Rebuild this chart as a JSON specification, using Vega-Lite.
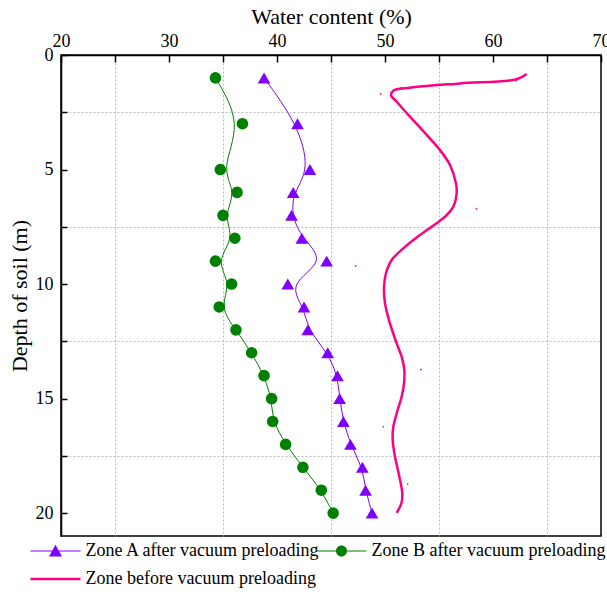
{
  "$schema": "https://vega.github.io/schema/vega-lite/v6.json",
  "width": 540,
  "height": 481,
  "autosize": {"type": "none"},
  "padding": {"left": 61, "top": 55, "right": 6, "bottom": 58},
  "background": "white",
  "config": {
    "font": "Liberation Serif",
    "view": {"stroke": "black", "strokeWidth": 1.5},
    "axis": {
      "labelFont": "Liberation Serif",
      "titleFont": "Liberation Serif",
      "labelFontSize": 18,
      "titleFontSize": 22,
      "titleFontWeight": "normal",
      "labelColor": "black",
      "titleColor": "black",
      "domainColor": "black",
      "domainWidth": 1.5,
      "tickColor": "black",
      "tickWidth": 1.5,
      "labelFlush": false,
      "labelOverlap": false,
      "gridColor": "#bdbdbd",
      "gridDash": [2, 2],
      "gridWidth": 1
    }
  },
  "datasets": {
    "pts": [
      {"series": "Zone A after vacuum preloading", "depth": 1, "water": 38.8},
      {"series": "Zone A after vacuum preloading", "depth": 3, "water": 41.9},
      {"series": "Zone A after vacuum preloading", "depth": 5, "water": 43.05},
      {"series": "Zone A after vacuum preloading", "depth": 6, "water": 41.5},
      {"series": "Zone A after vacuum preloading", "depth": 7, "water": 41.35},
      {"series": "Zone A after vacuum preloading", "depth": 8, "water": 42.3},
      {"series": "Zone A after vacuum preloading", "depth": 9, "water": 44.6},
      {"series": "Zone A after vacuum preloading", "depth": 10, "water": 41.0},
      {"series": "Zone A after vacuum preloading", "depth": 11, "water": 42.5},
      {"series": "Zone A after vacuum preloading", "depth": 12, "water": 42.85},
      {"series": "Zone A after vacuum preloading", "depth": 13, "water": 44.7},
      {"series": "Zone A after vacuum preloading", "depth": 14, "water": 45.6},
      {"series": "Zone A after vacuum preloading", "depth": 15, "water": 45.8},
      {"series": "Zone A after vacuum preloading", "depth": 16, "water": 46.15},
      {"series": "Zone A after vacuum preloading", "depth": 17, "water": 46.8},
      {"series": "Zone A after vacuum preloading", "depth": 18, "water": 47.9},
      {"series": "Zone A after vacuum preloading", "depth": 19, "water": 48.2},
      {"series": "Zone A after vacuum preloading", "depth": 20, "water": 48.8},
      {"series": "Zone B after vacuum preloading", "depth": 1, "water": 34.3},
      {"series": "Zone B after vacuum preloading", "depth": 3, "water": 36.8},
      {"series": "Zone B after vacuum preloading", "depth": 5, "water": 34.75},
      {"series": "Zone B after vacuum preloading", "depth": 6, "water": 36.3},
      {"series": "Zone B after vacuum preloading", "depth": 7, "water": 35.0},
      {"series": "Zone B after vacuum preloading", "depth": 8, "water": 36.1},
      {"series": "Zone B after vacuum preloading", "depth": 9, "water": 34.3},
      {"series": "Zone B after vacuum preloading", "depth": 10, "water": 35.8},
      {"series": "Zone B after vacuum preloading", "depth": 11, "water": 34.65},
      {"series": "Zone B after vacuum preloading", "depth": 12, "water": 36.2},
      {"series": "Zone B after vacuum preloading", "depth": 13, "water": 37.65},
      {"series": "Zone B after vacuum preloading", "depth": 14, "water": 38.8},
      {"series": "Zone B after vacuum preloading", "depth": 15, "water": 39.5},
      {"series": "Zone B after vacuum preloading", "depth": 16, "water": 39.6},
      {"series": "Zone B after vacuum preloading", "depth": 17, "water": 40.8},
      {"series": "Zone B after vacuum preloading", "depth": 18, "water": 42.4},
      {"series": "Zone B after vacuum preloading", "depth": 19, "water": 44.1},
      {"series": "Zone B after vacuum preloading", "depth": 20, "water": 45.2}
    ],
    "before": [
      {"depth": 0.83, "water": 63.12},
      {"depth": 1.06, "water": 62.19},
      {"depth": 1.24, "water": 56.94},
      {"depth": 1.43, "water": 52.31},
      {"depth": 1.56, "water": 50.77},
      {"depth": 1.75, "water": 50.56},
      {"depth": 2.04, "water": 51.08},
      {"depth": 2.69, "water": 52.31},
      {"depth": 3.49, "water": 53.86},
      {"depth": 4.15, "water": 55.09},
      {"depth": 4.80, "water": 56.02},
      {"depth": 5.60, "water": 56.57},
      {"depth": 6.04, "water": 56.63},
      {"depth": 6.62, "water": 56.33},
      {"depth": 6.99, "water": 55.71},
      {"depth": 7.35, "water": 54.78},
      {"depth": 7.86, "water": 53.24},
      {"depth": 8.44, "water": 51.70},
      {"depth": 8.95, "water": 50.62},
      {"depth": 9.53, "water": 50.09},
      {"depth": 10.12, "water": 49.91},
      {"depth": 10.84, "water": 50.0},
      {"depth": 11.72, "water": 50.46},
      {"depth": 12.59, "water": 51.08},
      {"depth": 13.17, "water": 51.54},
      {"depth": 13.76, "water": 51.79},
      {"depth": 14.34, "water": 51.76},
      {"depth": 14.92, "water": 51.54},
      {"depth": 15.65, "water": 51.08},
      {"depth": 16.23, "water": 50.77},
      {"depth": 16.81, "water": 50.71},
      {"depth": 17.54, "water": 50.93},
      {"depth": 18.41, "water": 51.33},
      {"depth": 19.14, "water": 51.60},
      {"depth": 19.58, "water": 51.51},
      {"depth": 19.99, "water": 51.08}
    ],
    "beforeDots": [
      {"depth": 1.11, "water": 62.16},
      {"depth": 1.43, "water": 51.45},
      {"depth": 1.70, "water": 49.6},
      {"depth": 4.21, "water": 55.15},
      {"depth": 6.71, "water": 58.46},
      {"depth": 9.21, "water": 47.28},
      {"depth": 13.73, "water": 53.33},
      {"depth": 16.23, "water": 49.85},
      {"depth": 18.73, "water": 52.10}
    ]
  },
  "layer": [
    {
      "data": {"name": "pts"},
      "mark": {"type": "line", "interpolate": "basis", "strokeWidth": 1},
      "encoding": {
        "x": {
          "field": "water", "type": "quantitative",
          "scale": {"domain": [20, 70], "nice": false, "zero": false},
          "axis": {
            "orient": "top",
            "title": "Water content (%)",
            "values": [20, 25, 30, 35, 40, 45, 50, 55, 60, 65, 70],
            "labelExpr": "datum.value % 10 === 0 ? format(datum.value, 'd') : ''",
            "tickSize": -7,
            "labelPadding": 12,
            "titlePadding": 4,
            "grid": true,
            "gridOpacity": {"condition": {"test": "datum.value % 10 === 5", "value": 1}, "value": 0}
          }
        },
        "y": {
          "field": "depth", "type": "quantitative",
          "scale": {"domain": [0, 21], "nice": false, "zero": false, "reverse": true},
          "axis": {
            "orient": "left",
            "title": "Depth of soil (m)",
            "values": [0, 2.5, 5, 7.5, 10, 12.5, 15, 17.5, 20],
            "labelExpr": "datum.value % 5 === 0 ? format(datum.value, 'd') : ''",
            "tickSize": -6,
            "labelPadding": 14,
            "titlePadding": 4,
            "grid": true,
            "gridOpacity": {"condition": {"test": "datum.value % 5 === 2.5", "value": 1}, "value": 0}
          }
        },
        "stroke": {
          "field": "series", "type": "nominal",
          "scale": {"domain": ["Zone A after vacuum preloading", "Zone B after vacuum preloading"], "range": ["#8000FF", "#008000"]},
          "legend": null
        },
        "order": {"field": "depth", "type": "quantitative"}
      }
    },
    {
      "data": {"name": "before"},
      "mark": {"type": "line", "interpolate": "catmull-rom", "strokeWidth": 2.5, "color": "#FF0080"},
      "encoding": {
        "x": {"field": "water", "type": "quantitative"},
        "y": {"field": "depth", "type": "quantitative"},
        "order": {"field": "depth", "type": "quantitative"}
      }
    },
    {
      "data": {"name": "beforeDots"},
      "mark": {"type": "point", "filled": true, "size": 3, "color": "#FF0080", "opacity": 1},
      "encoding": {
        "x": {"field": "water", "type": "quantitative"},
        "y": {"field": "depth", "type": "quantitative"}
      }
    },
    {
      "data": {"name": "pts"},
      "transform": [{"filter": "datum.series === 'Zone A after vacuum preloading'"}],
      "mark": {"type": "point", "shape": "triangle-up", "filled": true, "size": 160, "color": "#8000FF", "opacity": 1},
      "encoding": {
        "x": {"field": "water", "type": "quantitative"},
        "y": {"field": "depth", "type": "quantitative"}
      }
    },
    {
      "data": {"name": "pts"},
      "transform": [{"filter": "datum.series === 'Zone B after vacuum preloading'"}],
      "mark": {"type": "point", "shape": "circle", "filled": true, "size": 135, "color": "#008000", "opacity": 1},
      "encoding": {
        "x": {"field": "water", "type": "quantitative"},
        "y": {"field": "depth", "type": "quantitative"}
      }
    },
    {
      "data": {"name": "pts"},
      "transform": [{"filter": "datum.depth < 0"}],
      "mark": {"type": "point", "opacity": 1, "filled": true},
      "encoding": {
        "x": {"field": "water", "type": "quantitative"},
        "y": {"field": "depth", "type": "quantitative"},
        "color": {
          "field": "series", "type": "nominal",
          "scale": {"domain": ["Zone A after vacuum preloading", "Zone B after vacuum preloading", "Zone before vacuum preloading"], "range": ["#8000FF", "#008000", "#FF0080"]},
          "legend": {
            "orient": "none", "legendX": -15.5, "legendY": 486,
            "columns": 2, "direction": "horizontal", "title": null,
            "symbolSize": 400, "labelOffset": 20, "columnPadding": -4, "rowPadding": 9,
            "labelFontSize": 18, "labelFont": "Liberation Serif", "labelColor": "black", "labelLimit": 500,
            "symbolOpacity": 1, "symbolStrokeWidth": 0, "padding": 0
          }
        },
        "shape": {
          "field": "series", "type": "nominal",
          "scale": {"domain": ["Zone A after vacuum preloading", "Zone B after vacuum preloading", "Zone before vacuum preloading"], "range": ["M-2.5,-0.05H2.5V0.05H-2.5ZM0,-0.62L0.65,0.55L-0.65,0.55Z", "M-2.5,-0.05H2.5V0.05H-2.5ZM-0.55,0A0.55,0.55,0,1,1,0.55,0A0.55,0.55,0,1,1,-0.55,0Z", "M-2.5,-0.125H2.5V0.125H-2.5Z"]}
        }
      }
    }
  ]
}
